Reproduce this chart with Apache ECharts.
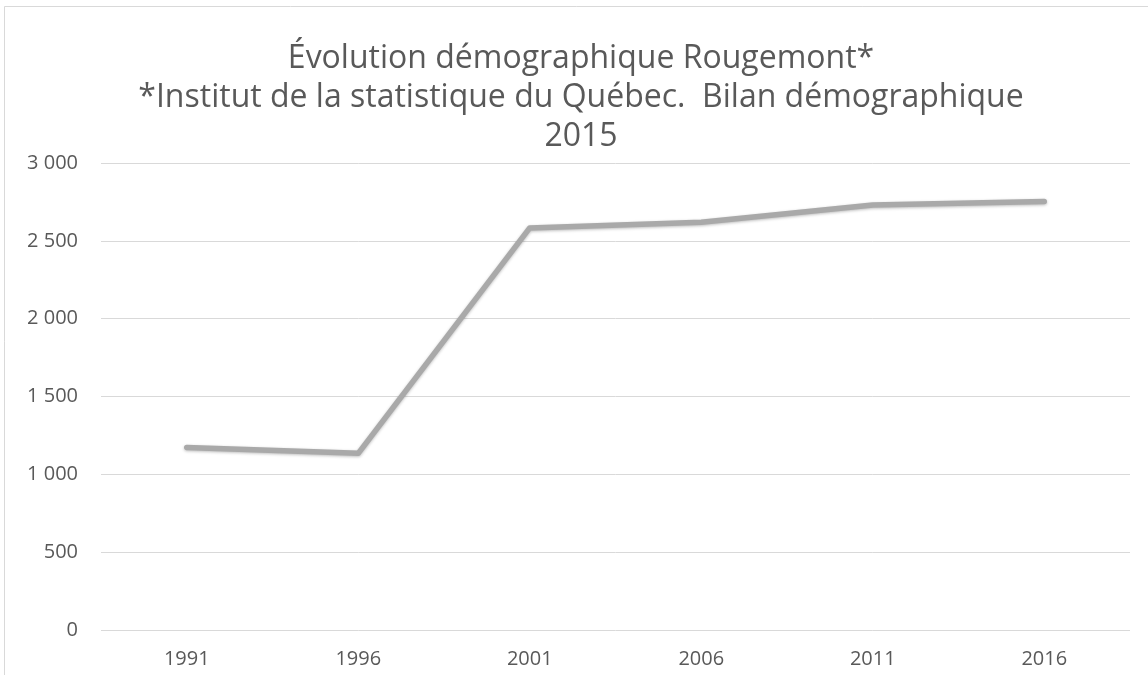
<!DOCTYPE html>
<html>
<head>
<meta charset="utf-8">
<script src="https://cdn.jsdelivr.net/npm/echarts@6/dist/echarts.min.js"></script>
<style>
  html, body { margin: 0; padding: 0; background: #fff; }
  #main { width: 1148px; height: 675px; }
</style>
</head>
<body>
<div id="main"></div>
<script>
// données
var annees = ['1991', '1996', '2001', '2006', '2011', '2016'];
var population = [1173, 1135, 2583, 2620, 2730, 2752];
var titreLignes = [
  'Évolution démographique Rougemont*',
  '*Institut de la statistique du Québec.  Bilan démographique',
  '2015'
];

// 3000 -> "3 000"
function espaceMilliers(v) {
  return String(v).replace(/\B(?=(\d{3})+(?!\d))/g, ' ');
}

var chart = echarts.init(document.getElementById('main'), null, { renderer: 'canvas' });

chart.setOption({
  backgroundColor: '#fff',
  animation: false,
  textStyle: { fontFamily: 'Open Sans' },
  graphic: [
    {
      // cadre du graphique
      type: 'rect',
      shape: { x: 4.5, y: 6.5, width: 1160, height: 700 },
      style: { fill: 'none', stroke: '#d9d9d9', lineWidth: 1 },
      silent: true
    },
    {
      type: 'text',
      x: 581,
      y: 39,
      style: {
        text: titreLignes.join('\n'),
        font: '32px "Open Sans"',
        fill: '#595959',
        align: 'center',
        verticalAlign: 'top',
        lineHeight: 39
      }
    }
  ],
  grid: {
    left: 101,
    right: 18,
    top: 163,
    bottom: 45
  },
  xAxis: {
    type: 'category',
    data: annees,
    boundaryGap: true,
    axisLine: { show: false },
    axisTick: { show: false },
    axisLabel: {
      color: '#595959',
      fontFamily: 'Open Sans',
      fontSize: 20,
      margin: 19
    }
  },
  yAxis: {
    type: 'value',
    min: 0,
    max: 3000,
    interval: 500,
    axisLine: { show: false },
    axisTick: { show: false },
    splitLine: { lineStyle: { color: '#d9d9d9', width: 1 } },
    axisLabel: {
      color: '#595959',
      fontFamily: 'Open Sans',
      fontSize: 20,
      margin: 23,
      formatter: espaceMilliers
    }
  },
  series: [
    {
      type: 'line',
      data: population,
      showSymbol: false,
      lineStyle: {
        color: '#a9a9a9',
        width: 5.5,
        cap: 'round',
        join: 'round',
        shadowColor: 'rgba(0,0,0,0.25)',
        shadowBlur: 3,
        shadowOffsetY: 1
      }
    }
  ]
});
</script>
</body>
</html>
